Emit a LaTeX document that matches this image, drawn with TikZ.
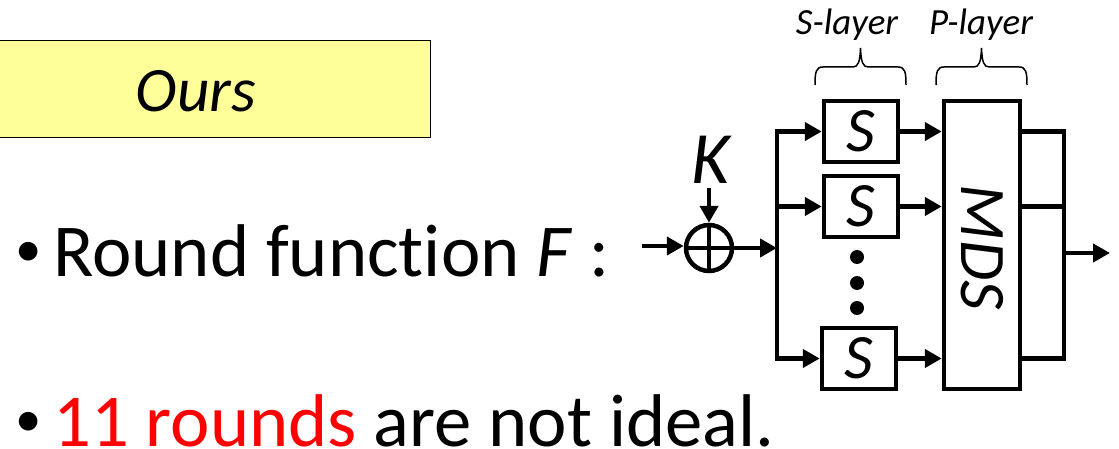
\documentclass[tikz,border=0pt]{standalone}
\usepackage{fontspec}
\setmainfont[Ligatures=NoCommon]{Carlito}
\usetikzlibrary{arrows.meta}
\definecolor{oursyellow}{HTML}{FFFF99}
\newcommand{\slidebullet}{\makebox[1.06cm][l]{\hspace{0.3cm}\raisebox{0.2cm}{\fontsize{30}{30}\selectfont •}}}

\begin{document}
\begin{tikzpicture}[
    x=0.02cm, y=-0.02cm,
    bigtext/.style={anchor=base west, inner sep=0pt, font=\fontsize{42.5}{48}\selectfont},
    sbox/.style={
        rectangle,
        draw,
        line width=0.09cm,
        minimum width=1.48cm,
        minimum height=1.22cm,
        inner sep=0pt,
        font=\fontsize{36}{40}\selectfont\itshape
    },
    layerlabel/.style={inner sep=0pt, font=\fontsize{21}{24}\selectfont\itshape},
    wire/.style={line width=0.09cm},
    arrow/.style={wire, -{Triangle[length=0.34cm,width=0.36cm]}},
    brace/.style={line width=0.03cm}
]
\useasboundingbox (0,0) rectangle (1119,449);
\clip (0,0) rectangle (1119,449);

\node[draw=black, fill=oursyellow, line width=0.03cm, minimum width=8.7cm, minimum height=1.94cm,
      inner sep=0pt] (ours) at (213,89) {};
\node[inner sep=0pt, font=\fontsize{36}{40}\selectfont\itshape] (ourstext) at (196,91) {Ours};

\node[bigtext] (round) at (0,276) {\slidebullet Round function \textit{F} :};
\node[bigtext] (ideal) at (0,446) {\slidebullet\textcolor{red}{11 rounds} are not ideal.};

% S-layer and P-layer
\node[sbox] (s1) at (861,131.5) {S};
\node[sbox] (s2) at (861,206.5) {S};
\node[sbox] (s3) at (859,358.5) {S};
\node[sbox, minimum width=1.52cm, minimum height=5.76cm] (mds) at (982,245) {};
\node[inner sep=0pt, rotate=-90, font=\fontsize{37}{40}\selectfont\itshape] (mdstext) at (982,247) {MDS};

\foreach \y/\dotname in {257/d1, 283/d2, 308/d3}
    \node[circle, fill=black, inner sep=0pt, minimum size=0.28cm] (\dotname) at (857,\y) {};

% key addition
\node[circle, draw, line width=0.09cm, minimum size=0.92cm, inner sep=0pt] (xor) at (709,248) {};
\draw[wire] (xor.north) -- (xor.south);
\draw[wire] (xor.west) -- (xor.east);
\node[inner sep=0pt, font=\fontsize{42}{46}\selectfont\itshape] (key) at (711,160) {K};
\coordinate (keyin) at (709,188);
\coordinate (in) at (642,246);
\draw[arrow] (keyin) -- (xor.north);
\draw[arrow] (in) -- (xor.west |- in);

% wires
\coordinate (busin) at (777,248);
\coordinate (bus1) at (777,131.5);
\coordinate (bus2) at (777,206.5);
\coordinate (bus3) at (777,358.5);
\coordinate (out1) at (1064,131.5);
\coordinate (out2) at (1064,206.5);
\coordinate (out3) at (1064,358.5);
\coordinate (outmid) at (1064,253);
\coordinate (out) at (1110,253);

\draw[arrow] (xor.east) -- (busin);
\draw[wire, line cap=rect] (bus1) -- (bus3);
\draw[wire] (mds.east |- out1) -- (out1) -- (out3) -- (mds.east |- out3);
\draw[wire] (mds.east |- out2) -- (out2);
\draw[arrow] (outmid) -- (out);
\foreach \n in {1,2,3} {
    \draw[arrow] (bus\n) -- (s\n.west);
    \draw[arrow] (s\n.east) -- (mds.west |- s\n.east);
}

% braces
\foreach \x/\lab/\t/\off in {815/slabel/S-layer/32, 936/plabel/P-layer/45} {
    \draw[brace] (\x,85) .. controls (\x,72) and (\x+1,67) .. (\x+8,67) -- (\x+38,67)
        .. controls (\x+43,67) and (\x+45,62) .. (\x+45.5,48)
        .. controls (\x+46,62) and (\x+48,67) .. (\x+53,67) -- (\x+83,67)
        .. controls (\x+90,67) and (\x+91,72) .. (\x+91,85);
    \node[layerlabel] (\lab) at (\x+\off,25) {\t};
}

\end{tikzpicture}
\end{document}
